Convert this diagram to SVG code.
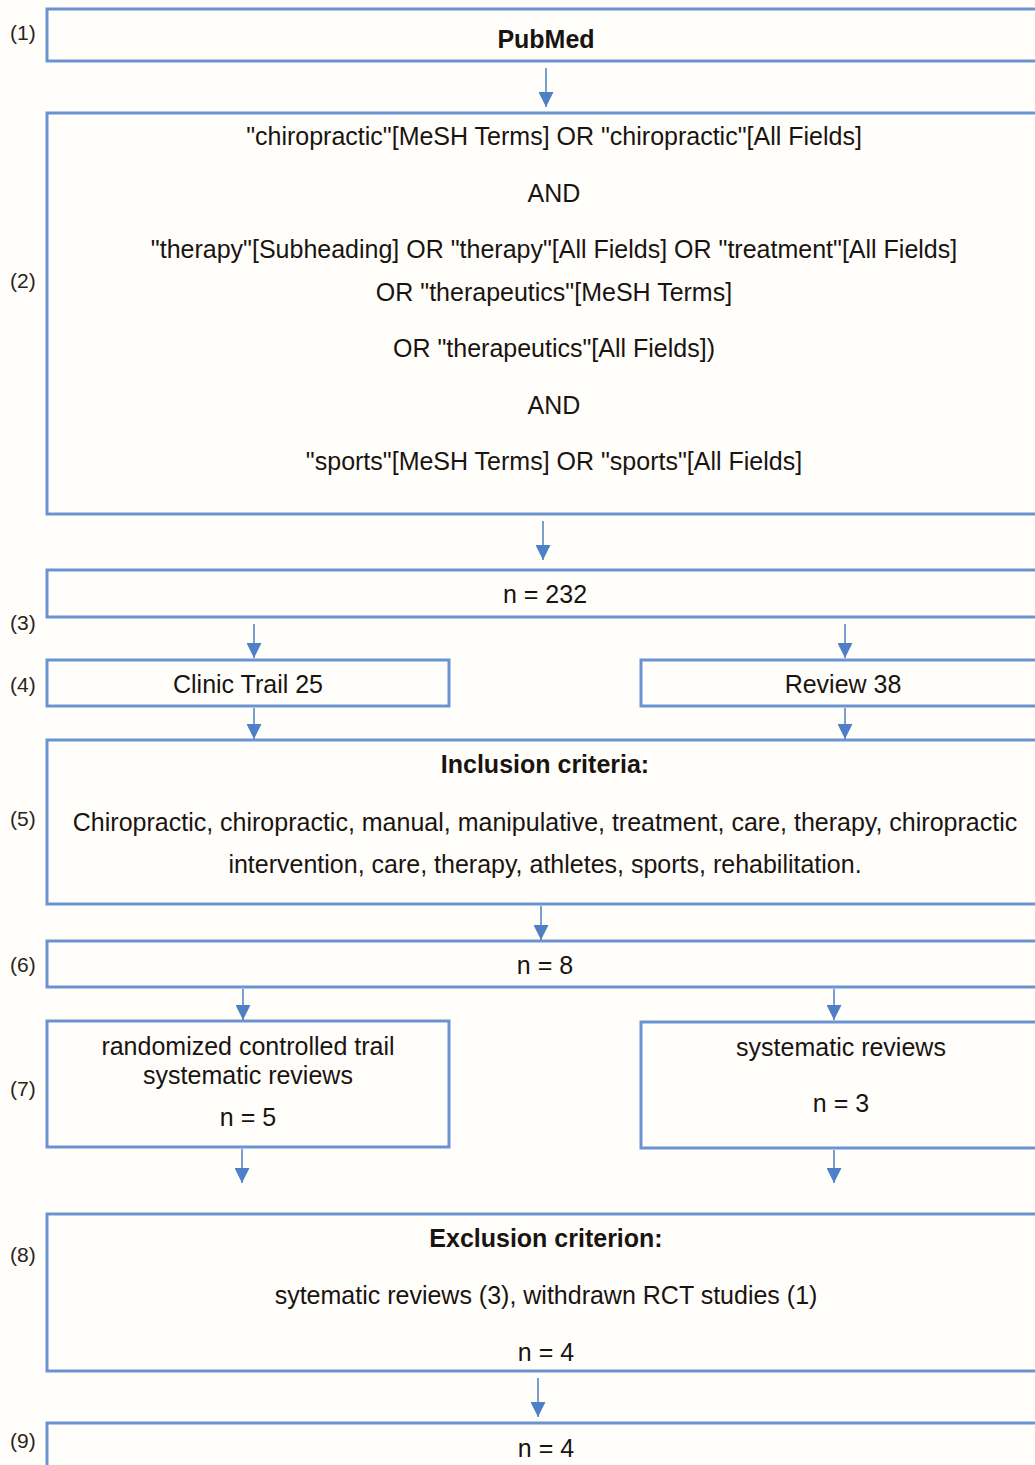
<svg xmlns="http://www.w3.org/2000/svg" width="1035" height="1465" viewBox="0 0 1035 1465">
<style>
.box{fill:#fffefb;stroke:#6b93d0;stroke-width:3}
.t{font-family:"Liberation Sans",Arial,sans-serif;font-size:25px;fill:#1a1410;text-anchor:middle}
.b{font-weight:bold}
.lbl{font-family:"Liberation Sans",Arial,sans-serif;font-size:21px;fill:#2a2420}
.con line{stroke:#5a87c8;stroke-width:1.6}
</style>
<defs>
<marker id="ah" viewBox="0 0 10 10" refX="10" refY="5" markerWidth="15" markerHeight="15" markerUnits="userSpaceOnUse" orient="auto">
<path d="M0,0 L10,5 L0,10 z" fill="#4f80c6"/>
</marker>
</defs>
<rect width="1035" height="1465" fill="#fffefb"/>
<g class="lbl">
<text x="10" y="40">(1)</text>
<text x="10" y="288">(2)</text>
<text x="10" y="630">(3)</text>
<text x="10" y="692">(4)</text>
<text x="10" y="826">(5)</text>
<text x="10" y="972">(6)</text>
<text x="10" y="1096">(7)</text>
<text x="10" y="1262">(8)</text>
<text x="10" y="1448">(9)</text>
</g>
<g id="n1"><rect class="box" x="47" y="9" width="1010" height="52"/><text class="t b" x="546" y="48" font-size="27">PubMed</text></g>
<g id="n2"><rect class="box" x="47" y="113" width="1010" height="401"/>
<text class="t" x="554" y="145">"chiropractic"[MeSH Terms] OR "chiropractic"[All Fields]</text>
<text class="t" x="554" y="202">AND</text>
<text class="t" x="554" y="258">"therapy"[Subheading] OR "therapy"[All Fields] OR "treatment"[All Fields]</text>
<text class="t" x="554" y="301">OR "therapeutics"[MeSH Terms]</text>
<text class="t" x="554" y="357">OR "therapeutics"[All Fields])</text>
<text class="t" x="554" y="414">AND</text>
<text class="t" x="554" y="470">"sports"[MeSH Terms] OR "sports"[All Fields]</text>
</g>
<g id="n3"><rect class="box" x="47" y="570" width="1010" height="47"/><text class="t" x="545" y="603">n = 232</text></g>
<g id="n4a"><rect class="box" x="47" y="660" width="402" height="46"/><text class="t" x="248" y="693">Clinic Trail 25</text></g>
<g id="n4b"><rect class="box" x="641" y="660" width="416" height="46"/><text class="t" x="843" y="693">Review 38</text></g>
<g id="n5"><rect class="box" x="47" y="740" width="1010" height="164"/>
<text class="t b" x="545" y="773">Inclusion criteria:</text>
<text class="t" x="545" y="831">Chiropractic, chiropractic, manual, manipulative, treatment, care, therapy, chiropractic</text>
<text class="t" x="545" y="873">intervention, care, therapy, athletes, sports, rehabilitation.</text>
</g>
<g id="n6"><rect class="box" x="47" y="941" width="1010" height="46"/><text class="t" x="545" y="974">n = 8</text></g>
<g id="n7a"><rect class="box" x="47" y="1021" width="402" height="126"/>
<text class="t" x="248" y="1055">randomized controlled trail</text>
<text class="t" x="248" y="1084">systematic reviews</text>
<text class="t" x="248" y="1126">n = 5</text>
</g>
<g id="n7b"><rect class="box" x="641" y="1022" width="416" height="126"/>
<text class="t" x="841" y="1056">systematic reviews</text>
<text class="t" x="841" y="1112">n = 3</text>
</g>
<g id="n8"><rect class="box" x="47" y="1214" width="1010" height="157"/>
<text class="t b" x="546" y="1247">Exclusion criterion:</text>
<text class="t" x="546" y="1304">sytematic reviews (3), withdrawn RCT studies (1)</text>
<text class="t" x="546" y="1361">n = 4</text>
</g>
<g id="n9"><rect class="box" x="47" y="1423" width="1010" height="60"/><text class="t" x="546" y="1457">n = 4</text></g>
<g class="con">
<line x1="546" y1="68" x2="546" y2="107" marker-end="url(#ah)"/>
<line x1="543" y1="521" x2="543" y2="560" marker-end="url(#ah)"/>
<line x1="254" y1="624" x2="254" y2="658" marker-end="url(#ah)"/>
<line x1="845" y1="624" x2="845" y2="658" marker-end="url(#ah)"/>
<line x1="254" y1="708" x2="254" y2="739" marker-end="url(#ah)"/>
<line x1="845" y1="708" x2="845" y2="739" marker-end="url(#ah)"/>
<line x1="541" y1="906" x2="541" y2="940" marker-end="url(#ah)"/>
<line x1="243" y1="989" x2="243" y2="1020" marker-end="url(#ah)"/>
<line x1="834" y1="989" x2="834" y2="1020" marker-end="url(#ah)"/>
<line x1="242" y1="1149" x2="242" y2="1183" marker-end="url(#ah)"/>
<line x1="834" y1="1150" x2="834" y2="1183" marker-end="url(#ah)"/>
<line x1="538" y1="1378" x2="538" y2="1417" marker-end="url(#ah)"/>
</g>
</svg>
